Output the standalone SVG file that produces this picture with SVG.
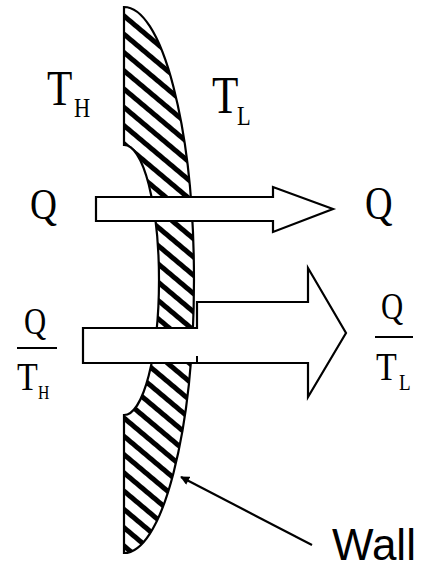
<svg xmlns="http://www.w3.org/2000/svg" width="423" height="570" viewBox="0 0 423 570">
  <defs>
    <pattern id="hatch" width="14" height="14" patternUnits="userSpaceOnUse" patternTransform="rotate(40)">
      <rect width="14" height="14" fill="#fff"/>
      <rect y="0" width="14" height="5" fill="#000"/>
    </pattern>
    <marker id="ah" viewBox="0 0 10 10" refX="9" refY="5" markerWidth="10" markerHeight="9" orient="auto" markerUnits="userSpaceOnUse">
      <path d="M0,0 L10,5 L0,10 Z" fill="#000"/>
    </marker>
    <style>
      .ol { stroke:#000; stroke-width:2.2; fill:#fff; stroke-linejoin:miter; }
      .serif { font-family:"Liberation Serif","Times New Roman",serif; fill:#000; }
      .sans { font-family:"Liberation Sans",Arial,sans-serif; fill:#000; }
      .bar { stroke:#000; stroke-width:2; }
    </style>
  </defs>

  <g id="wall">
    <path d="M124,7 A70,273 0 0 1 124,553 L124,415 A35,135 0 0 0 124,145 Z" fill="url(#hatch)" stroke="#000" stroke-width="2.2"/>
  </g>

  <g id="arrow-q">
    <path class="ol" d="M96,197 L273,197 L273,187 L333,209 L273,232 L273,221 L96,221 Z"/>
  </g>

  <g id="arrow-entropy">
    <path class="ol" d="M83,328 L197,328 L197,302 L308,302 L308,268 L346,333 L308,397 L308,363 L83,363 Z"/>
    <line x1="197" y1="356" x2="197" y2="363" stroke="#000" stroke-width="2"/>
  </g>

  <g id="label-TH" class="serif">
    <text transform="translate(47,105) scale(0.83,1)" font-size="50">T</text>
    <text transform="translate(74,117) scale(0.83,1)" font-size="27">H</text>
  </g>
  <g id="label-TL" class="serif">
    <text transform="translate(212,113) scale(0.83,1)" font-size="52">T</text>
    <text transform="translate(237,125) scale(0.83,1)" font-size="27">L</text>
  </g>
  <g id="label-Q-in" class="serif">
    <text transform="translate(30,219) scale(0.83,1)" font-size="45">Q</text>
  </g>
  <g id="label-Q-out" class="serif">
    <text transform="translate(365,219) scale(0.83,1)" font-size="46">Q</text>
  </g>
  <g id="label-Q-TH" class="serif">
    <text transform="translate(24,334) scale(0.83,1)" font-size="37">Q</text>
    <line class="bar" x1="17" y1="348" x2="57" y2="348"/>
    <text transform="translate(17,390) scale(0.83,1)" font-size="41">T</text>
    <text transform="translate(38,399) scale(0.83,1)" font-size="19">H</text>
  </g>
  <g id="label-Q-TL" class="serif">
    <text transform="translate(381,319) scale(0.83,1)" font-size="37">Q</text>
    <line class="bar" x1="375" y1="337" x2="413" y2="337"/>
    <text transform="translate(376,380) scale(0.83,1)" font-size="41">T</text>
    <text transform="translate(399,390) scale(0.83,1)" font-size="23">L</text>
  </g>

  <g id="connectors">
    <line x1="312" y1="545" x2="181" y2="477" stroke="#000" stroke-width="2.2" marker-end="url(#ah)"/>
  </g>

  <g id="label-wall" class="sans">
    <text x="332" y="560" font-size="44">Wall</text>
  </g>
</svg>
